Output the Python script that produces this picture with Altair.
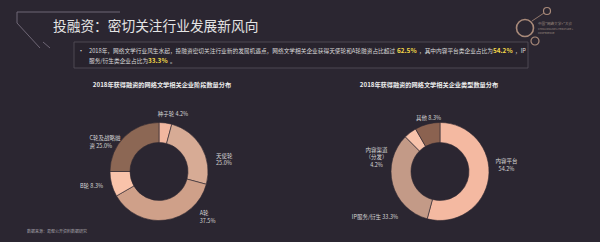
import altair as alt
import pandas as pd

# ---------------- data ----------------
stage_cats = ["种子轮", "天使轮", "A轮", "B轮", "C轮及战略融资"]
stage_vals = [4.2, 25.0, 37.5, 8.3, 25.0]
stage_text = ["种子轮 4.2%", "天使轮\n25.0%", "A轮\n37.5%", "B轮 8.3%", "C轮及战略融\n资 25.0%"]

type_cats = ["内容平台", "IP服务/衍生", "内容渠道（分发）", "其他"]
type_vals = [54.2, 33.3, 4.2, 8.3]
type_text = ["内容平台\n54.2%", "IP服务/衍生 33.3%", "内容渠道\n（分发）\n4.2%", "其他 8.3%"]

# ---------------- styles ----------------
BG = "#2b2631"
FONT = "Noto Sans CJK SC"
stage_colors = ["#f2b79f", "#d7ab95", "#cfa089", "#f9c3aa", "#8c6754"]
type_colors = ["#f4b9a1", "#c39a87", "#f8c3ab", "#8b6250"]
# label nudges: (align, dx, dy)
stage_lab_style = [("center", 6, 2), ("left", 5, 14), ("left", 33, -18), ("right", 2, -1), ("left", -27, 9)]
type_lab_style = [("center", 7, -18), ("right", 16, 30), ("center", -27, 26), ("center", 4, 4)]

one = alt.Data(values=[{"a": 1}])


def txt(s, x, y, size=6, color="#d8d8d8", align="left", weight="normal", font=FONT):
    return alt.Chart(one).mark_text(
        text=s, fontSize=size, color=color, align=align, baseline="middle",
        fontWeight=weight, font=font
    ).encode(x=alt.value(x), y=alt.value(y))


def rule(x1, y1, x2, y2, color="#6f6776", w=1):
    return alt.Chart(one).mark_rule(color=color, strokeWidth=w).encode(
        x=alt.value(x1), y=alt.value(y1), x2=alt.value(x2), y2=alt.value(y2))


def ring(x, y, d, color="#a98a7a", w=1.4):
    return alt.Chart(one).mark_point(shape="circle", size=d * d, filled=False,
                                     color=color, strokeWidth=w, opacity=1).encode(
        x=alt.value(x), y=alt.value(y))


def donut(cats, vals, texts, colors, styles, cx, cy):
    df = pd.DataFrame({"cat": cats, "value": vals, "label": texts, "idx": list(range(len(cats)))})
    base = alt.Chart(df).transform_window(
        v1="sum(value)", sort=[alt.SortField("idx")], frame=[None, 0]
    ).transform_calculate(v0="datum.v1 - datum.value", mid="datum.v1 - datum.value / 2")
    tscale = alt.Scale(domain=[0, 100])
    arc = base.mark_arc(innerRadius=29, outerRadius=49, stroke=BG, strokeWidth=0.6).encode(
        theta=alt.Theta("v0:Q", scale=tscale),
        theta2="v1:Q",
        color=alt.Color("cat:N", scale=alt.Scale(domain=cats, range=colors), legend=None),
        x=alt.value(cx), y=alt.value(cy),
    )
    layers = [arc]
    for i, (al, dx, dy) in enumerate(styles):
        layers.append(
            base.transform_filter(alt.datum.idx == i).mark_text(
                radius=60, align=al, dx=dx, dy=dy, baseline="middle", lineBreak="\n",
                fontSize=5.5, color="#d6d6d6", font=FONT, lineHeight=7.5
            ).encode(
                theta=alt.Theta("mid:Q", scale=tscale),
                text="label:N",
                x=alt.value(cx), y=alt.value(cy),
            )
        )
    return layers


layers = []
# decorative frame lines
layers += [
    rule(17, 12, 120, 12), rule(17, 12, 17, 23), rule(17, 23, 40, 48), rule(43, 42, 50, 48),
]
# header
layers.append(txt("投融资：密切关注行业发展新风向", 53, 27, size=13.7, color="#e4e4e4"))
# summary box
layers.append(alt.Chart(one).mark_rect(fill="#28232d", stroke="#56505c", strokeWidth=0.8).encode(
    x=alt.value(74), x2=alt.value(528), y=alt.value(42), y2=alt.value(68)))
layers.append(txt("•", 78, 51, size=6, color="#e0e0e0"))
YEL = "#f3d84a"
layers += [
    txt("2018年，网络文学行业风生水起，投融资密切关注行业新的发展机遇点，网络文学相关企业获得天使轮和A轮融资占比超过", 89, 51, size=5.7),
    txt("62.5%", 397, 50.5, size=6.4, color=YEL, weight="bold"),
    txt("，其中内容平台类企业占比为", 419, 51, size=5.7),
    txt("54.2%", 493, 50.5, size=6.4, color=YEL, weight="bold"),
    txt("，IP", 515, 51, size=5.7),
    txt("服务/衍生类企业占比为", 89, 61, size=5.7),
    txt("33.3%", 148, 60.5, size=6.4, color=YEL, weight="bold"),
    txt("。", 170, 61, size=5.7),
]
# logo
layers += [
    rule(532, 21, 544, 13, color="#a98a7a", w=0.8),
    ring(525, 28, 17, w=1.6),
    ring(547, 11, 7, w=1.2),
    ring(535, 41, 8, w=1.2),
    txt("中国\"网络文学+\"大会", 538, 24, size=3.6, color="#9c8a80"),
    txt("CHINA ONLINE LITERATURE +", 538, 29, size=2.6, color="#9c8a80"),
    txt("CONFERENCE", 538, 33, size=2.6, color="#9c8a80"),
]
# chart titles
layers.append(txt("2018年获得融资的网络文学相关企业阶段数量分布", 162, 85, size=6.2, color="#ececec", align="center", weight="bold"))
layers.append(txt("2018年获得融资的网络文学相关企业类型数量分布", 429, 85, size=6.2, color="#ececec", align="center", weight="bold"))
# donuts
layers += donut(stage_cats, stage_vals, stage_text, stage_colors, stage_lab_style, 159, 171.5)
layers += donut(type_cats, type_vals, type_text, type_colors, type_lab_style, 440, 171.5)
# footnote
layers.append(txt("数据来源：易观公开资料数据研究", 27, 232, size=4, color="#a8a4ac"))

chart = alt.layer(*layers).properties(
    width=600, height=242, background=BG, padding=0, autosize="none"
).resolve_scale(color="independent").configure_view(stroke=None)

chart.save("out.html", embed_options={"renderer": "svg", "actions": False})
